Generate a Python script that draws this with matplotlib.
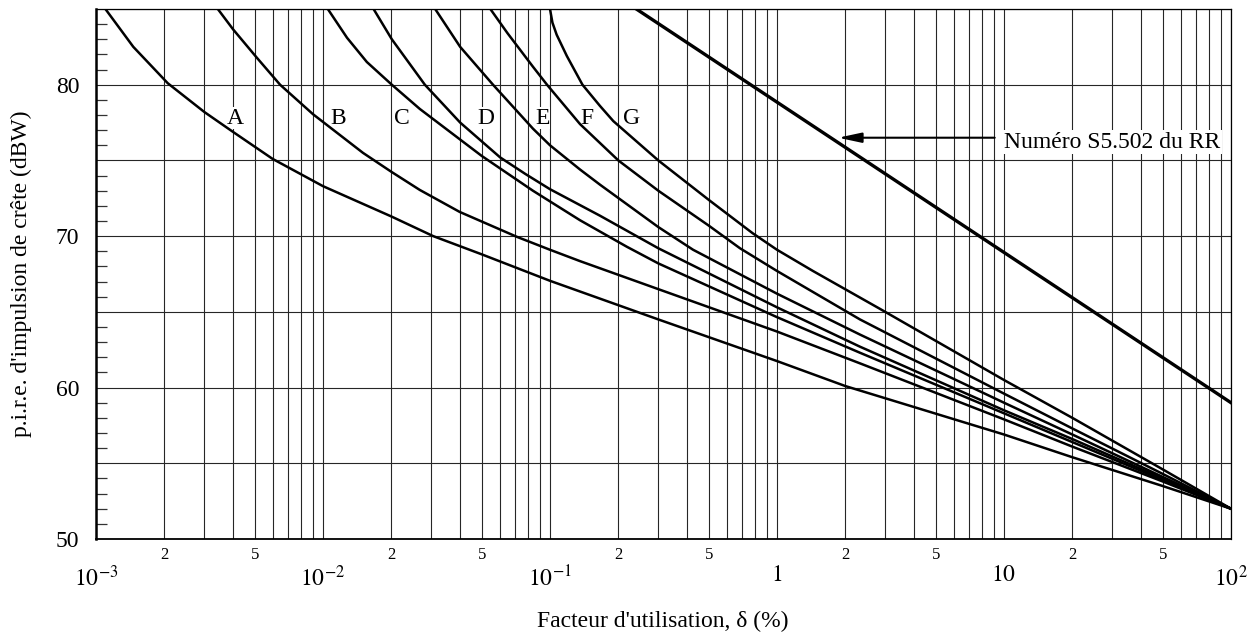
import numpy as np
import matplotlib
matplotlib.use('Agg')
import matplotlib.pyplot as plt
from matplotlib.ticker import FixedLocator, FixedFormatter

plt.rcParams['font.family'] = ['Liberation Serif', 'DejaVu Serif']
plt.rcParams['mathtext.fontset'] = 'stix'

# courbes A..G : facteur d'utilisation (%) / p.i.r.e. (dBW)
a_x = [0.0011, 0.00146, 0.00207, 0.003, 0.004, 0.006, 0.01, 0.02, 0.0306, 0.05, 0.1, 0.3, 1, 2, 10, 20, 50, 100]
a_y = [85, 82.5, 80.1, 78.2, 76.9, 75.1, 73.3, 71.3, 70.0, 68.8, 67.05, 64.5, 61.75, 60.1, 56.9, 55.4, 53.5, 52]

b_x = [0.00344, 0.00402, 0.0051, 0.00647, 0.00904, 0.015, 0.02, 0.0267, 0.04, 0.0716, 0.1, 0.1356, 0.3, 1, 2.32, 10, 20, 50, 100]
b_y = [85, 83.65, 81.8, 80, 78.05, 75.5, 74.25, 73.05, 71.6, 69.95, 69.1, 68.35, 66.5, 63.7, 61.6, 57.9, 56.1, 53.8, 52]

c_x = [0.0105, 0.01276, 0.0156, 0.0201, 0.0267, 0.05, 0.0841, 0.1356, 0.218, 0.3, 1, 2.32, 10, 20, 50, 100]
c_y = [85, 83.1, 81.5, 80, 78.4, 75.3, 73.0, 71.05, 69.3, 68.2, 64.65, 62.3, 58.3, 56.4, 53.9, 52]

d_x = [0.0167, 0.0201, 0.0281, 0.0402, 0.0603, 0.078, 0.1, 0.166, 0.3, 1, 2.32, 10, 20, 50, 100]
d_y = [85, 83.0, 80, 77.5, 75.2, 74.1, 73.1, 71.35, 69.2, 65.3, 62.7, 58.5, 56.6, 54.0, 52]

e_x = [0.0312, 0.0402, 0.0561, 0.0841, 0.1, 0.1356, 0.166, 0.3, 0.427, 1, 2.32, 10, 20, 50, 100]
e_y = [85, 82.5, 80, 77.1, 76.0, 74.4, 73.4, 70.6, 69.1, 66.2, 63.5, 59.0, 56.9, 54.1, 52]

f_x = [0.0546, 0.065, 0.084, 0.097, 0.1356, 0.2, 0.3, 0.5, 0.687, 1, 2.32, 10, 20, 50, 100]
f_y = [85, 83.4, 81.2, 80.0, 77.4, 75.0, 73.0, 70.7, 69.2, 67.7, 64.5, 59.6, 57.3, 54.3, 52]

g_x = [0.1, 0.1025, 0.107, 0.1186, 0.139, 0.166, 0.19, 0.3, 0.5, 0.78, 1, 1.44, 2.84, 10, 20, 50, 100]
g_y = [85, 84.1, 83.3, 81.9, 80.0, 78.6, 77.6, 75.0, 72.4, 70.2, 69.1, 67.7, 65.2, 60.5, 58.0, 54.6, 52]

# limite du numéro S5.502 du RR
rr_x = [0.24, 100]
rr_y = [85, 59]

curve_names = ['A', 'B', 'C', 'D', 'E', 'F', 'G']
curves = [(a_x, a_y), (b_x, b_y), (c_x, c_y), (d_x, d_y), (e_x, e_y), (f_x, f_y), (g_x, g_y)]
label_x = [0.0041, 0.01164, 0.0223, 0.0522, 0.0923, 0.1456, 0.2296]
label_y = 77.8

x_major = [1e-3, 1e-2, 1e-1, 1, 10, 100]
x_major_lbl = [r'$10^{-3}$', r'$10^{-2}$', r'$10^{-1}$', r'$1$', r'$10$', r'$10^{2}$']

fig = plt.figure(figsize=(12.56, 6.35), dpi=100)
ax = fig.add_axes([96/1256, 1 - 539/635, 1135/1256, 530/635])

for (cx, cy) in curves:
    ax.plot(cx, cy, color='black', lw=1.8, solid_joinstyle='round', zorder=3)
ax.plot(rr_x, rr_y, color='black', lw=2.4, zorder=3)

# étiquettes : fond blanc qui coupe la grille mais pas les courbes
for name, lx in zip(curve_names, label_x):
    ax.text(lx, label_y, name, fontsize=17, ha='center', va='center', zorder=2.5,
            bbox=dict(facecolor='white', edgecolor='none', pad=0.5))

ax.annotate('', xy=(1.86, 76.5), xytext=(9.1, 76.5),
            arrowprops=dict(arrowstyle='-|>,head_length=1.4,head_width=0.3', color='black', lw=1.5,
                            shrinkA=0, shrinkB=0),
            zorder=4)
ax.text(10.0, 76.2, 'Numéro S5.502 du RR', fontsize=17, ha='left', va='center', zorder=2.5,
        bbox=dict(facecolor='white', edgecolor='none', pad=1.0))

ax.set_xscale('log')
ax.set_xlim(1e-3, 100)
ax.set_ylim(50, 85)

# axe x : décades + graduations 2..9
minor = []
minor_lbl = []
for dec in [1e-3, 1e-2, 1e-1, 1, 10]:
    for m in range(2, 10):
        minor.append(m * dec)
        minor_lbl.append(str(m) if m in (2, 5) else '')
ax.xaxis.set_major_locator(FixedLocator(x_major))
ax.xaxis.set_major_formatter(FixedFormatter(x_major_lbl))
ax.xaxis.set_minor_locator(FixedLocator(minor))
ax.xaxis.set_minor_formatter(FixedFormatter(minor_lbl))
ax.tick_params(axis='x', which='major', length=0, pad=19, labelsize=17)
ax.tick_params(axis='x', which='minor', length=0, pad=6, labelsize=12)

# axe y
ax.set_yticks([50, 55, 60, 65, 70, 75, 80, 85])
ax.set_yticklabels(['50', '', '60', '', '70', '', '80', ''])
ax.yaxis.set_minor_locator(FixedLocator(np.arange(51, 85, 1)))
ax.tick_params(axis='y', which='major', length=0, pad=12, labelsize=17)
ax.tick_params(axis='y', which='minor', direction='in', length=8, width=0.9, color='0.2')

ax.grid(True, which='major', axis='both', color='0.15', lw=0.8)
ax.grid(True, which='minor', axis='x', color='0.15', lw=0.8)

for side in ['top', 'right']:
    ax.spines[side].set_linewidth(0.9)
ax.spines['left'].set_linewidth(1.8)
ax.spines['bottom'].set_linewidth(1.3)

ax.set_ylabel("p.i.r.e. d'impulsion de crête (dBW)", fontsize=17)
ax.yaxis.set_label_coords(-0.056, 0.5)
ax.set_xlabel("Facteur d'utilisation, δ (%)", fontsize=17)
ax.xaxis.set_label_coords(0.499, -0.136)

fig.savefig('out.png', dpi=100)
